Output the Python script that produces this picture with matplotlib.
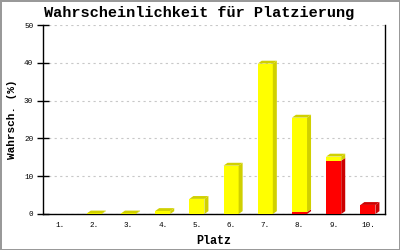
import matplotlib
matplotlib.use("Agg")
import matplotlib.pyplot as plt
from matplotlib.patches import Polygon

places = ["1.", "2.", "3.", "4.", "5.", "6.", "7.", "8.", "9.", "10."]
red_vals = [0, 0, 0, 0, 0, 0, 0, 0.5, 14.1, 2.4]
yellow_vals = [0, 0.15, 0.15, 0.8, 4.0, 12.8, 39.8, 25.0, 1.1, 0]
yticks = [0, 10, 20, 30, 40, 50]

title = "Wahrscheinlichkeit für Platzierung"
xlabel = "Platz"
ylabel = "Wahrsch. (%)"

mono = ["Liberation Mono", "DejaVu Sans Mono"]

fig = plt.figure(figsize=(4, 2.5), dpi=100, facecolor="white",
                 edgecolor="#999999", linewidth=2)
ax = fig.add_axes([0.1075, 0.144, 0.855, 0.756])

w = 0.44
dx = 0.117
dy = 0.75

segs = [("#FF0000", "#CC0000", red_vals), ("#FFFF00", "#D0D000", yellow_vals)]
xs = list(range(1, len(places) + 1))
bottoms = [0.0] * len(places)
tops_color = [None] * len(places)
for face, side, vals in segs:
    ax.bar(xs, vals, width=w, bottom=bottoms, color=face, linewidth=0, zorder=3)
    for i, (x, v) in enumerate(zip(xs, vals)):
        if v <= 0:
            continue
        b = bottoms[i]
        t = b + v
        xr = x + w / 2
        ax.add_patch(Polygon([(xr, b), (xr + dx, b + dy), (xr + dx, t + dy), (xr, t)],
                             closed=True, facecolor=side, edgecolor="none", zorder=3))
        tops_color[i] = side
    bottoms = [b + v for b, v in zip(bottoms, vals)]

for i, x in enumerate(xs):
    if tops_color[i] is None:
        continue
    T = bottoms[i]
    xl, xr = x - w / 2, x + w / 2
    ax.add_patch(Polygon([(xl, T), (xl + dx, T + dy), (xr + dx, T + dy), (xr, T)],
                         closed=True, facecolor=tops_color[i], edgecolor="none", zorder=3))

ax.set_xlim(0.5, 10.5)
ax.set_ylim(0, 50)
ax.set_xticks(xs)
ax.set_xticklabels(places, family=mono, fontsize=5.5)
ax.set_yticks(yticks)
ax.set_yticklabels([str(v) for v in yticks], family=mono, fontsize=5.5)
ax.tick_params(axis="x", length=0, pad=6)
ax.tick_params(axis="y", direction="inout", length=8, width=1, pad=3)
ax.yaxis.grid(True, color="#C8C8C8", linestyle=(0, (2, 3)), linewidth=0.8, zorder=0)
ax.set_axisbelow(True)
for s in ["left", "bottom", "right"]:
    ax.spines[s].set_color("black")
    ax.spines[s].set_linewidth(1)
ax.spines["top"].set_visible(False)

ax.set_xlabel(xlabel, family=mono, fontsize=8.5, fontweight="bold", labelpad=4)
ax.set_ylabel(ylabel, family=mono, fontsize=8, fontweight="bold")
ax.yaxis.set_label_coords(-0.075, 0.5)
fig.text(0.4975, 0.948, title, family=mono, fontsize=11, fontweight="bold",
         ha="center", va="center")

fig.savefig("out.png", dpi=100, facecolor="white", edgecolor="#999999")
